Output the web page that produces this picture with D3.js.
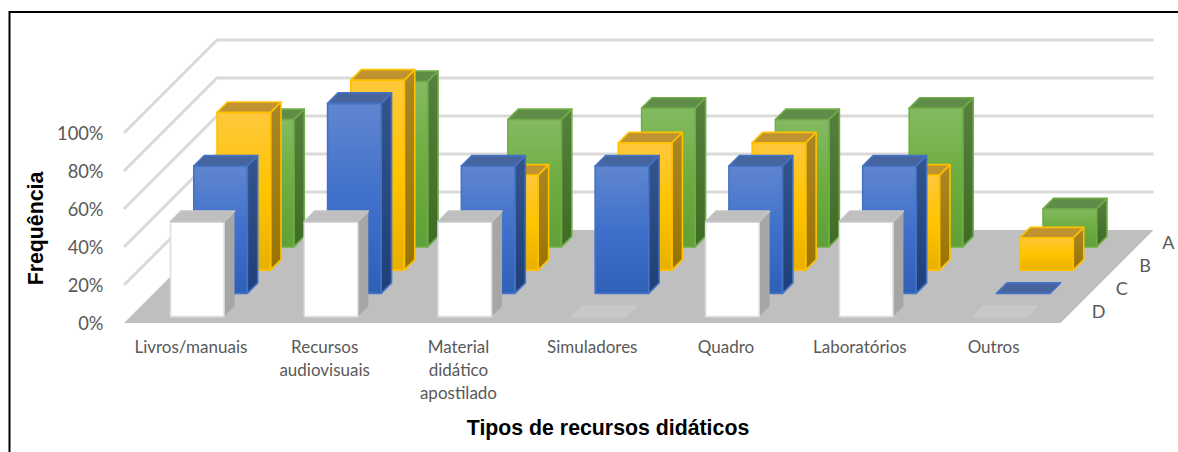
<!DOCTYPE html>
<html><head><meta charset="utf-8">
<style>html,body{margin:0;padding:0;background:#fff;overflow:hidden}svg{display:block}</style>
<script src="https://cdn.jsdelivr.net/npm/d3@7/dist/d3.min.js"></script>
</head><body>
<svg id="c" width="1178" height="452"></svg>
<script>
const categories = ["Livros/manuais","Recursos audiovisuais","Material didático apostilado","Simuladores","Quadro","Laboratórios","Outros"];
const categoryLines = [["Livros/manuais"],["Recursos","audiovisuais"],["Material","didático","apostilado"],["Simuladores"],["Quadro"],["Laboratórios"],["Outros"]];
const seriesNames = ["D","C","B","A"];
const valuesA = [67,87,67,73,67,73,20];
const valuesB = [83,100,50,67,67,50,17];
const valuesC = [67,100,67,67,67,67,0];
const valuesD = [50,50,50,0,50,50,0];
const yTicks = [0,20,40,60,80,100];
const seriesValues = {A:valuesA,B:valuesB,C:valuesC,D:valuesD};
const palette = {
  A:{stroke:"#70AD47",top:"#5F8C48",grad:["#84BA62","#6DAD3F","#5FA038"],side:["#55803F","#3F6C24"]},
  B:{stroke:"#FFC000",top:"#BF9430",grad:["#FFC83C","#FFC400","#E8B000"],side:["#AB8726","#997300"]},
  C:{stroke:"#4472C4",top:"#46659F",grad:["#6086CF","#4070CB","#2F60B8"],side:["#34548D","#1F3F78"]},
  D:{stroke:"#DEDEDE",top:"#BFBFBF",grad:["#FFFFFF","#FFFFFF","#FFFFFF"],side:["#A6A6A6","#A6A6A6"]}
};
const GRAY="#595959";

const svg=d3.select("#c");
const defs=svg.append("defs");
seriesNames.forEach(s=>{
  const p=palette[s];
  const g=defs.append("linearGradient").attr("id","f"+s).attr("x1",0).attr("y1",0).attr("x2",0).attr("y2",1);
  p.grad.forEach((c,i)=>g.append("stop").attr("offset",i/2).attr("stop-color",c));
  const h=defs.append("linearGradient").attr("id","s"+s).attr("x1",0).attr("y1",0).attr("x2",0).attr("y2",1);
  p.side.forEach((c,i)=>h.append("stop").attr("offset",i).attr("stop-color",c));
});

// frame
svg.append("path").attr("d","M9.5,452V12H1178").attr("fill","none").attr("stroke","#000").attr("stroke-width",2);

const x=d3.scaleBand().domain(categories).range([124,1060.5]).paddingInner(0.6).paddingOuter(0.3);
const z=d3.scaleBand().domain(seriesNames).range([0,93]).paddingInner(0.55).paddingOuter(0.275);
const y=d3.scaleLinear().domain([0,100]).range([323,133]);
const DEPTH=93;
const P=(px,py,d)=>[px+d,py-d];
const poly=a=>a.map(q=>q.join(",")).join(" ");

// grid
const grid=svg.append("g").attr("fill","none").attr("stroke","#DADADA").attr("stroke-width",3);
yTicks.filter(t=>t>0).forEach(t=>{
  const a=P(x.range()[0],y(t),0),b=P(x.range()[0],y(t),DEPTH),c=P(x.range()[1],y(t),DEPTH);
  grid.append("polyline").attr("points",poly([a,b,c]));
});
// floor
svg.append("polygon").attr("fill","#BFBFBF")
  .attr("points",poly([P(124,y(0),0),P(1060.5,y(0),0),P(1060.5,y(0),DEPTH),P(124,y(0),DEPTH)]));

// bars, back to front
const order=["A","B","C","D"];
order.forEach(s=>{
  const p=palette[s];
  const rows=categories.map((c,i)=>({c,v:seriesValues[s][i]}));
  const g=svg.append("g").selectAll("g").data(rows).join("g")
    .attr("stroke",p.stroke).attr("stroke-width",1.6).attr("stroke-linejoin","round");
  const d0=z(s), d1=z(s)+z.bandwidth(), w=x.bandwidth();
  const X=d=>x(d.c);
  g.filter(d=>d.v>0).append("polygon").attr("fill",`url(#s${s})`).attr("stroke-width",s==="D"?0:1.6)
    .attr("points",d=>poly([P(X(d)+w,y(d.v),d0),P(X(d)+w,y(d.v),d1),P(X(d)+w,y(0),d1),P(X(d)+w,y(0),d0)]));
  g.filter(d=>d.v>0).append("polygon").attr("fill",`url(#f${s})`)
    .attr("points",d=>poly([P(X(d),y(d.v),d0),P(X(d)+w,y(d.v),d0),P(X(d)+w,y(0),d0),P(X(d),y(0),d0)]));
  g.append("polygon")
    .attr("fill",d=>d.v>0?p.top:(s==="D"?"#C8C8C8":p.top))
    .attr("stroke",d=>s==="D"?(d.v>0?"#C4C4C4":"#C8C8C8"):p.stroke)
    .attr("points",d=>poly([P(X(d),y(d.v),d0),P(X(d)+w,y(d.v),d0),P(X(d)+w,y(d.v),d1),P(X(d),y(d.v),d1)]));
});

// y axis
const yAxis=svg.append("g").attr("transform","translate(103.5,0)")
  .call(d3.axisLeft(y).tickValues(yTicks).tickSize(0).tickPadding(0).tickFormat(d=>d+"%"));
yAxis.select(".domain").remove();
yAxis.selectAll("text").attr("fill",GRAY).style("font-family","Lato").style("font-size","18.3px").attr("dy","0.36em");

// category labels
const xc=d3.scaleBand().domain(categories).range(x.range());
const lab=svg.append("g").selectAll("text").data(categories).join("text")
  .attr("text-anchor","middle").attr("fill",GRAY)
  .style("font-family","Lato").style("font-size","17px");
lab.each(function(c,i){
  d3.select(this).selectAll("tspan").data(categoryLines[i]).join("tspan")
    .attr("x",xc(c)+xc.bandwidth()/2).attr("y",(l,k)=>353+k*23).text(l=>l);
});

// depth labels
svg.append("g").selectAll("text").data(seriesNames).join("text")
  .attr("x",s=>P(1060.5,y(0),z(s)+z.bandwidth()/2)[0]+26.5)
  .attr("y",s=>P(1060.5,y(0),z(s)+z.bandwidth()/2)[1]+7)
  .attr("text-anchor","middle").attr("fill",GRAY)
  .style("font-family","Lato").style("font-size","18px").text(s=>s);

// titles
svg.append("text").attr("transform","translate(43,228.5) rotate(-90)").attr("text-anchor","middle")
  .style("font-family","'Liberation Sans'").style("font-weight","bold").style("font-size","21.3px").attr("fill","#000").text("Frequência");
svg.append("text").attr("x",608).attr("y",434.5).attr("text-anchor","middle")
  .style("font-family","'Liberation Sans'").style("font-weight","bold").style("font-size","21.3px").attr("fill","#000").text("Tipos de recursos didáticos");
</script>
</body></html>
